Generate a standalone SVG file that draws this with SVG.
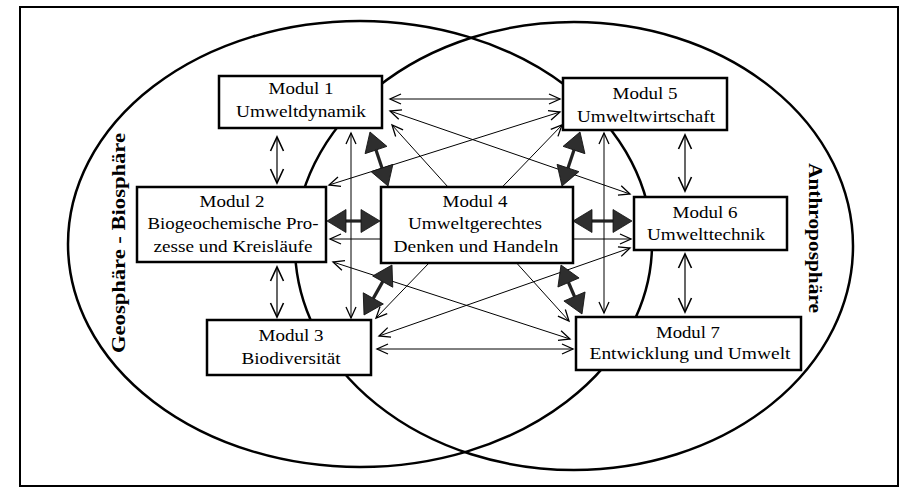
<svg xmlns="http://www.w3.org/2000/svg" width="907" height="488" viewBox="0 0 907 488">
<style>
.frame{fill:#fff;stroke:#000;stroke-width:2}
.sphere{fill:none;stroke:#000;stroke-width:2.5}
.box{fill:#fff;stroke:#000;stroke-width:2.5}
.t{font-family:"Liberation Serif","Times New Roman",serif;font-size:17.5px;fill:#000;text-anchor:middle}
.side{font-family:"Liberation Serif","Times New Roman",serif;font-size:19.5px;font-weight:bold;fill:#000;text-anchor:middle}
.thin{fill:none;stroke:#000;stroke-width:1;marker-start:url(#ch);marker-end:url(#ch)}
.vert{fill:none;stroke:#000;stroke-width:1.2;marker-start:url(#chb);marker-end:url(#chb)}
.thick{fill:none;stroke:#222;stroke-width:3.2;marker-start:url(#tri);marker-end:url(#tri)}
</style>
<defs>
<marker id="ch" markerUnits="userSpaceOnUse" orient="auto-start-reverse" overflow="visible" refX="0" refY="0" markerWidth="1" markerHeight="1">
<path d="M-11,-5 L0,0 L-11,5" fill="none" stroke="#000" stroke-width="1.3"/>
</marker>
<marker id="chb" markerUnits="userSpaceOnUse" orient="auto-start-reverse" overflow="visible" refX="0" refY="0" markerWidth="1" markerHeight="1">
<path d="M-14,-6.5 L0,0 L-14,6.5" fill="none" stroke="#000" stroke-width="1.6"/>
</marker>
<marker id="tri" markerUnits="userSpaceOnUse" orient="auto-start-reverse" overflow="visible" refX="0" refY="0" markerWidth="1" markerHeight="1">
<path d="M0,-11.5 L19,0 L0,11.5 Z" fill="#2e2e2e" stroke="#111" stroke-width="0.8"/>
</marker>
</defs>
<rect class="frame" x="20" y="7" width="878" height="479"/>
<g id="spheres">
<ellipse class="sphere" cx="360" cy="244" rx="292" ry="223"/>
<ellipse class="sphere" cx="574" cy="246" rx="279" ry="224"/>
</g>
<g id="side-labels">
<text class="side" transform="translate(125,243) rotate(-90)" textLength="220" lengthAdjust="spacingAndGlyphs">Geosphäre - Biosphäre</text>
<text class="side" transform="translate(809,238) rotate(90)" textLength="150" lengthAdjust="spacingAndGlyphs">Anthroposphäre</text>
</g>
<g id="connectors">
<line class="thin" x1="390" y1="99" x2="560" y2="99"/>
<line class="thin" x1="390" y1="111" x2="630" y2="194"/>
<line class="thin" x1="392" y1="125" x2="569" y2="321"/>
<line class="thin" x1="329" y1="185" x2="560" y2="112"/>
<line class="thin" x1="330" y1="239" x2="631" y2="239"/>
<line class="thin" x1="333" y1="262" x2="570" y2="339"/>
<line class="thin" x1="376" y1="318" x2="562" y2="125"/>
<line class="thin" x1="379" y1="336" x2="630" y2="248"/>
<line class="thin" x1="377" y1="349" x2="573" y2="349"/>
<line class="thin" x1="351" y1="133" x2="351" y2="318"/>
<line class="thin" x1="604" y1="133" x2="604" y2="313"/>
<line class="vert" x1="277" y1="137" x2="277" y2="183"/>
<line class="vert" x1="277" y1="267" x2="277" y2="317"/>
<line class="vert" x1="685" y1="135" x2="685" y2="191"/>
<line class="vert" x1="685" y1="254" x2="685" y2="312"/>
<line class="thick" x1="376" y1="150" x2="382" y2="168"/>
<line class="thick" x1="346" y1="221" x2="361" y2="221"/>
<line class="thick" x1="382.7" y1="281.6" x2="373.3" y2="298.4"/>
<line class="thick" x1="574" y1="150" x2="568" y2="168"/>
<line class="thick" x1="613" y1="221" x2="592" y2="221"/>
<line class="thick" x1="568.5" y1="282.5" x2="574.5" y2="296.5"/>
</g>
<g id="modul1">
<rect class="box" x="219" y="76" width="163" height="52"/>
<text class="t" x="301" y="94" textLength="65" lengthAdjust="spacingAndGlyphs">Modul 1</text>
<text class="t" x="301" y="117" textLength="130" lengthAdjust="spacingAndGlyphs">Umweltdynamik</text>
</g>
<g id="modul2">
<rect class="box" x="137" y="187" width="189" height="75"/>
<text class="t" x="232" y="207" textLength="65" lengthAdjust="spacingAndGlyphs">Modul 2</text>
<text class="t" x="233" y="229" textLength="171" lengthAdjust="spacingAndGlyphs">Biogeochemische Pro-</text>
<text class="t" x="233" y="252" textLength="159" lengthAdjust="spacingAndGlyphs">zesse und Kreisläufe</text>
</g>
<g id="modul3">
<rect class="box" x="207" y="320" width="164" height="55"/>
<text class="t" x="291" y="341" textLength="65" lengthAdjust="spacingAndGlyphs">Modul 3</text>
<text class="t" x="291" y="364" textLength="99" lengthAdjust="spacingAndGlyphs">Biodiversität</text>
</g>
<g id="modul4">
<rect class="box" x="381" y="187" width="192" height="76"/>
<text class="t" x="475" y="207" textLength="65" lengthAdjust="spacingAndGlyphs">Modul 4</text>
<text class="t" x="475" y="229" textLength="134" lengthAdjust="spacingAndGlyphs">Umweltgerechtes</text>
<text class="t" x="476" y="252" textLength="165" lengthAdjust="spacingAndGlyphs">Denken und Handeln</text>
</g>
<g id="modul5">
<rect class="box" x="563" y="78" width="164" height="52"/>
<text class="t" x="645" y="99" textLength="65" lengthAdjust="spacingAndGlyphs">Modul 5</text>
<text class="t" x="646" y="122" textLength="138" lengthAdjust="spacingAndGlyphs">Umweltwirtschaft</text>
</g>
<g id="modul6">
<rect class="box" x="634" y="197" width="153" height="53"/>
<text class="t" x="705" y="218" textLength="65" lengthAdjust="spacingAndGlyphs">Modul 6</text>
<text class="t" x="706" y="240" textLength="118" lengthAdjust="spacingAndGlyphs">Umwelttechnik</text>
</g>
<g id="modul7">
<rect class="box" x="576" y="317" width="225" height="53"/>
<text class="t" x="688" y="338" textLength="64" lengthAdjust="spacingAndGlyphs">Modul 7</text>
<text class="t" x="690" y="359" textLength="201" lengthAdjust="spacingAndGlyphs">Entwicklung und Umwelt</text>
</g>
</svg>
